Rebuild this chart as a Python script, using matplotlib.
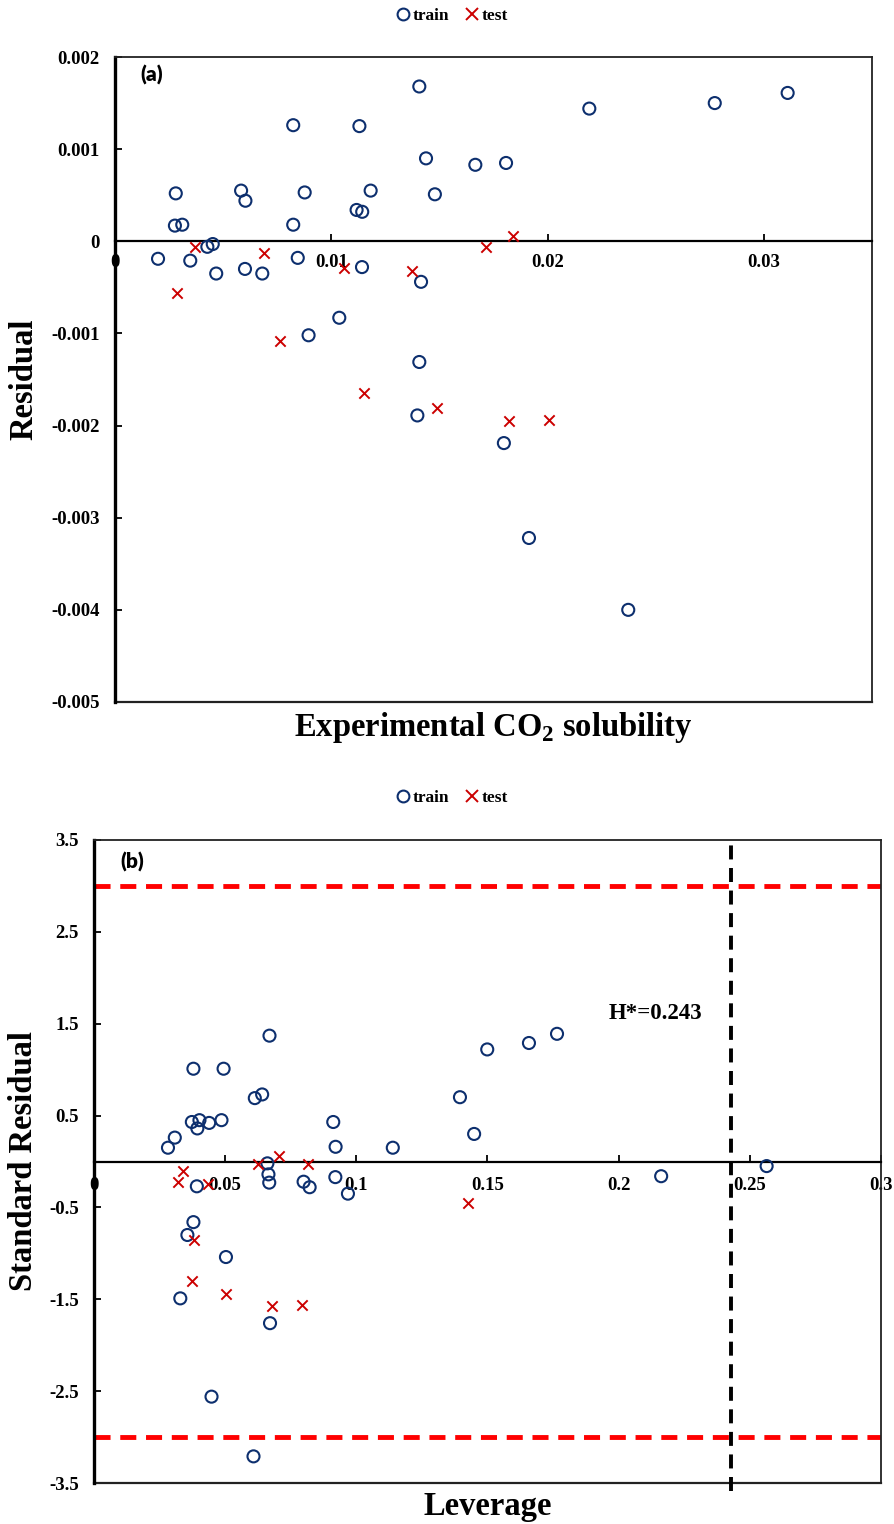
import matplotlib
matplotlib.use('Agg')
import matplotlib.pyplot as plt
from matplotlib.lines import Line2D

plt.rcParams['font.family'] = ['Liberation Serif', 'DejaVu Serif']
plt.rcParams['font.weight'] = 'bold'
plt.rcParams['mathtext.fontset'] = 'custom'
plt.rcParams['mathtext.rm'] = 'Liberation Serif:bold'
plt.rcParams['mathtext.bf'] = 'Liberation Serif:bold'

# (a) 残差 vs 实验CO2溶解度
a_train_x = [0.01407, 0.00824, 0.01130, 0.01438, 0.01666, 0.01808, 0.00281, 0.00583,
             0.00603, 0.00877, 0.01182, 0.01479, 0.00277, 0.00311, 0.00824, 0.01117,
             0.01143, 0.00199, 0.00348, 0.00427, 0.00452, 0.00468, 0.00601, 0.00681,
             0.00845, 0.01142, 0.01415, 0.01037, 0.00895, 0.01407, 0.01398, 0.02193,
             0.02773, 0.03110, 0.01798, 0.01914, 0.02373]
a_train_y = [0.00168, 0.00126, 0.00125, 0.00090, 0.00083, 0.00085, 0.00052, 0.00055,
             0.00044, 0.00053, 0.00055, 0.00051, 0.00017, 0.00018, 0.00018, 0.00034,
             0.00032, -0.00019, -0.00021, -0.00006, -0.00003, -0.00035, -0.00030, -0.00035,
             -0.00018, -0.00028, -0.00044, -0.00083, -0.00102, -0.00131, -0.00189, 0.00144,
             0.00150, 0.00161, -0.00219, -0.00322, -0.00400]
a_test_x = [0.00370, 0.00690, 0.01059, 0.01375, 0.01715, 0.01842, 0.00288, 0.00763,
            0.01150, 0.01490, 0.01820, 0.02008]
a_test_y = [-0.00006, -0.00013, -0.00029, -0.00032, -0.00006, 0.00006, -0.00056, -0.00108,
            -0.00165, -0.00181, -0.00195, -0.00194]
a_xticks = [0, 0.01, 0.02, 0.03]
a_xlabels = ['0', '0.01', '0.02', '0.03']
a_yticks = [0.002, 0.001, 0, -0.001, -0.002, -0.003, -0.004, -0.005]
a_ylabels = ['0.002', '0.001', '0', '-0.001', '-0.002', '-0.003', '-0.004', '-0.005']

# (b) Williams图: 标准残差 vs 杠杆值
b_train_x = [0.0669, 0.0379, 0.0494, 0.0613, 0.0641, 0.0373, 0.0402, 0.0394, 0.0439,
             0.0486, 0.0308, 0.0282, 0.0912, 0.0921, 0.1139, 0.1395, 0.1449, 0.0661,
             0.0665, 0.0668, 0.0799, 0.0822, 0.0920, 0.0968, 0.0392, 0.0379, 0.0356,
             0.0503, 0.0329, 0.0671, 0.0448, 0.0608, 0.1499, 0.1658, 0.1765, 0.2162,
             0.2564]
b_train_y = [1.37, 1.01, 1.01, 0.69, 0.73, 0.43, 0.45, 0.36, 0.42, 0.45, 0.26, 0.15,
             0.43, 0.16, 0.15, 0.70, 0.30, -0.02, -0.14, -0.23, -0.22, -0.28, -0.17,
             -0.35, -0.27, -0.66, -0.80, -1.04, -1.49, -1.76, -2.56, -3.21, 1.22, 1.29,
             1.39, -0.16, -0.05]
b_test_x = [0.0341, 0.0320, 0.0433, 0.0624, 0.0706, 0.0815, 0.1426, 0.0382, 0.0375,
            0.0503, 0.0678, 0.0794]
b_test_y = [-0.10, -0.22, -0.25, -0.03, 0.06, -0.03, -0.45, -0.85, -1.30, -1.44,
            -1.57, -1.56]
b_xticks = [0, 0.05, 0.1, 0.15, 0.2, 0.25, 0.3]
b_xlabels = ['0', '0.05', '0.1', '0.15', '0.2', '0.25', '0.3']
b_yticks = [3.5, 2.5, 1.5, 0.5, -0.5, -1.5, -2.5, -3.5]
b_ylabels = ['3.5', '2.5', '1.5', '0.5', '-0.5', '-1.5', '-2.5', '-3.5']
h_star = 0.243
res_limit = 3

navy = '#0D2F6E'
red = '#CC0000'

W, H = 895, 1524
fig = plt.figure(figsize=(W / 100, H / 100), dpi=100)


def px_axes(l, t, r, b):
    return fig.add_axes([l / W, 1 - b / H, (r - l) / W, (b - t) / H])


def style_axes(ax, xlim, ylim, xt, xl, yt, yl, xpad, ypad):
    ax.set_xlim(*xlim)
    ax.set_ylim(*ylim)
    ax.set_xticks(xt)
    ax.set_xticklabels(xl)
    ax.set_yticks(yt)
    ax.set_yticklabels(yl)
    ax.spines['bottom'].set_position(('data', 0))
    ax.spines['bottom'].set_linewidth(1.6)
    ax.spines['left'].set_linewidth(2.4)
    for s in ['top', 'right']:
        ax.spines[s].set_linewidth(1.3)
        ax.spines[s].set_color('#222222')
    # 底部边框
    ax.axhline(ylim[0], color='#222222', lw=1.6, clip_on=False)
    ax.tick_params(axis='x', direction='in', length=5, width=1.3, pad=xpad, labelsize=13.5)
    ax.tick_params(axis='y', direction='in', length=5, width=1.3, pad=ypad, labelsize=13.5)
    for t in ax.get_xticklabels() + ax.get_yticklabels():
        t.set_fontweight('bold')


def add_legend(y_px):
    h = [Line2D([], [], ls='none', marker='o', mfc='none', mec=navy, mew=1.5, ms=8.5),
         Line2D([], [], ls='none', marker='x', color=red, mew=1.4, ms=8)]
    fig.legend(h, ['train', 'test'], loc='center', bbox_to_anchor=(451 / W, 1 - y_px / H),
               ncol=2, frameon=False, handletextpad=0.05, columnspacing=0.8,
               handlelength=1.0, prop={'weight': 'bold', 'size': 12.5})


# ---- (a) ----
ax1 = px_axes(115, 57, 872, 702)
ax1.scatter(a_train_x, a_train_y, s=75, facecolors='none', edgecolors=navy, linewidths=1.5, zorder=3)
ax1.scatter(a_test_x, a_test_y, s=55, marker='x', color=red, linewidths=1.4, zorder=3)
style_axes(ax1, (0, 0.035), (-0.005, 0.002), a_xticks, a_xlabels, a_yticks, a_ylabels, 9, 11)
ax1.set_xlabel('Experimental CO$_\\mathbf{2}$ solubility', fontsize=23.5, fontweight='bold')
ax1.set_ylabel('Residual', fontsize=23.5, fontweight='bold')
ax1.xaxis.set_label_coords(0.5, -0.012)
ax1.yaxis.set_label_coords(-0.1, 0.5)
ax1.text(0.048, 0.972, '(a)', transform=ax1.transAxes, family=['Lato', 'DejaVu Sans'],
         fontsize=15, fontweight='heavy', ha='center', va='center')
add_legend(16)

# ---- (b) ----
ax2 = px_axes(94, 840, 881, 1483)
ax2.scatter(b_train_x, b_train_y, s=75, facecolors='none', edgecolors=navy, linewidths=1.5, zorder=3)
ax2.scatter(b_test_x, b_test_y, s=55, marker='x', color=red, linewidths=1.4, zorder=3)
style_axes(ax2, (0, 0.3), (-3.5, 3.5), b_xticks, b_xlabels, b_yticks, b_ylabels, 11, 11)
ax2.axhline(res_limit, color='#FF0000', lw=3.5, ls=(0, (3.3, 2.0)), zorder=2)
ax2.axhline(-res_limit, color='#FF0000', lw=3.5, ls=(0, (3.3, 2.0)), zorder=2)
ax2.axvline(h_star, ymin=-0.012, ymax=1, color='black', lw=2.8, ls=(0, (3.6, 2.2)),
            clip_on=False, zorder=2)
ax2.text(h_star - 0.011, 1.61, 'H*=0.243', fontsize=16.5, fontweight='bold', ha='right', va='center')
ax2.set_xlabel('Leverage', fontsize=23.5, fontweight='bold')
ax2.set_ylabel('Standard Residual', fontsize=23.5, fontweight='bold')
ax2.xaxis.set_label_coords(0.5, -0.013)
ax2.yaxis.set_label_coords(-0.07, 0.5)
ax2.text(0.048, 0.966, '(b)', transform=ax2.transAxes, family=['Lato', 'DejaVu Sans'],
         fontsize=15, fontweight='heavy', ha='center', va='center')
add_legend(798)

fig.savefig('out.png', dpi=100)
